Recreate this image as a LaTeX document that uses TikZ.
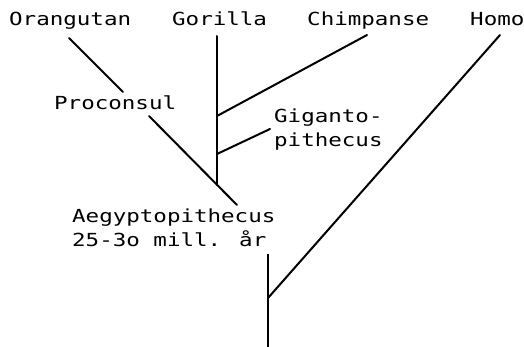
\documentclass[tikz,border=0pt]{standalone}
\usepackage{fontspec}
\newfontfamily\dotfont[FakeStretch=1.25]{DejaVu Sans Mono}
\begin{document}
\begin{tikzpicture}[x=1pt,y=-1pt,
  lbl/.style={anchor=base west,inner sep=0pt,align=left,font=\dotfont\fontsize{18}{24}\selectfont},
  branch/.style={line width=2pt,line cap=round}]
\useasboundingbox (0,0) rectangle (524,347);
\node[lbl] (orang) at (9,26) {Orangutan};
\node[lbl] (gor) at (172,26) {Gorilla};
\node[lbl] (chimp) at (307,26) {Chimpanse};
\node[lbl] (homo) at (470,26) {Homo};
\node[lbl] (procon) at (54,110) {Proconsul};
\node[lbl] (giga) at (274,147) {Giganto-\\pithecus};
\node[lbl] (aeg) at (72,246) {Aegyptopithecus\\25-3o mill. år};
% branch points
\coordinate (oTop) at (69,38);
\coordinate (oBot) at (123,92);
\coordinate (gTop) at (217,36);
\coordinate (gBot) at (217,185);
\coordinate (cJ) at (217,116);
\coordinate (cTop) at (367,35);
\coordinate (gJ) at (217,154);
\coordinate (gEnd) at (270,129);
\coordinate (pTop) at (149,116);
\coordinate (pBot) at (237,205);
\coordinate (hTop) at (500,35);
\coordinate (hJ) at (268,298);
\coordinate (rTop) at (268,254);
\coordinate (rBot) at (268,347);
\draw[branch] (oTop) -- (oBot);
\draw[branch] (gTop) -- (gBot);
\draw[branch] (cJ) -- (cTop);
\draw[branch] (gJ) -- (gEnd);
\draw[branch] (pTop) -- (pBot);
\draw[branch] (hJ) -- (hTop);
\draw[branch,line cap=butt] (rTop) -- (rBot);
\end{tikzpicture}
\end{document}
